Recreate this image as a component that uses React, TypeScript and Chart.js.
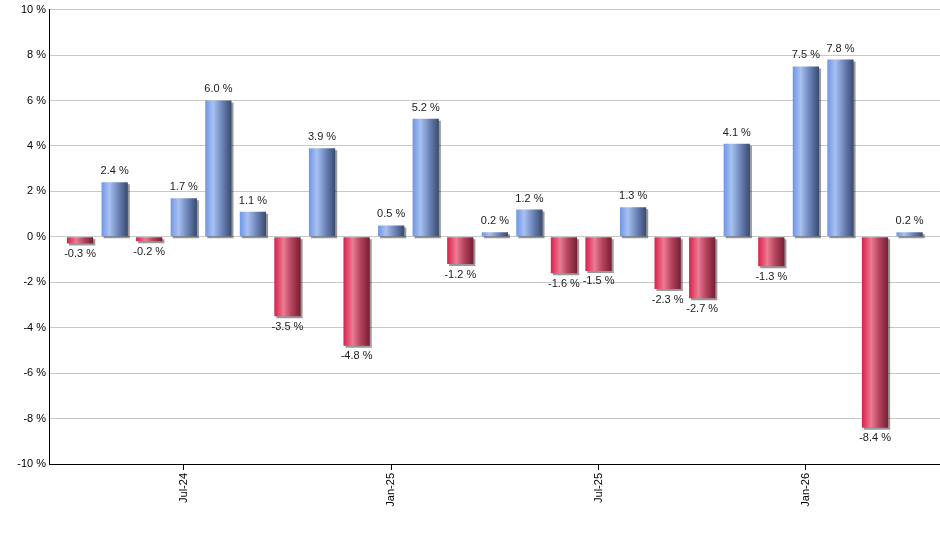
import React, { useEffect, useRef } from "react";
import { Chart, registerables } from "chart.js";

Chart.register(...registerables);

const months = [
  "Apr-24", "May-24", "Jun-24", "Jul-24", "Aug-24", "Sep-24", "Oct-24", "Nov-24", "Dec-24",
  "Jan-25", "Feb-25", "Mar-25", "Apr-25", "May-25", "Jun-25", "Jul-25", "Aug-25", "Sep-25",
  "Oct-25", "Nov-25", "Dec-25", "Jan-26", "Feb-26", "Mar-26", "Apr-26",
];
const returns = [
  -0.3, 2.4, -0.2, 1.7, 6.0, 1.1, -3.5, 3.9, -4.8, 0.5, 5.2, -1.2, 0.2,
  1.2, -1.6, -1.5, 1.3, -2.3, -2.7, 4.1, -1.3, 7.5, 7.8, -8.4, 0.2,
];
const yTicks = [-10, -8, -6, -4, -2, 0, 2, 4, 6, 8, 10];

const FONT = "'Liberation Sans', Arial, sans-serif";
const BAR_FRACTION = 0.76;

function barGradient(c: any, positive: boolean) {
  const chart = c.chart;
  const xs = chart.scales && chart.scales.x;
  if (!chart.chartArea || !xs) return positive ? "#7f9ee0" : "#d63a5a";
  const cx = xs.getPixelForValue(c.dataIndex);
  const step = xs.getPixelForValue(1) - xs.getPixelForValue(0);
  const half = (step * BAR_FRACTION) / 2;
  const g = chart.ctx.createLinearGradient(cx - half, 0, cx + half, 0);
  if (positive) {
    g.addColorStop(0, "#6f95e6");
    g.addColorStop(0.3, "#a8c1f1");
    g.addColorStop(0.65, "#6a82b6");
    g.addColorStop(1, "#394a6e");
  } else {
    g.addColorStop(0, "#d8204a");
    g.addColorStop(0.35, "#ec7b94");
    g.addColorStop(0.65, "#b4445e");
    g.addColorStop(1, "#761d33");
  }
  return g;
}

const barPlugin = {
  id: "barDeco",
  beforeDatasetsDraw(chart: any) {
    const ctx = chart.ctx;
    ctx.save();
    ctx.shadowColor = "rgba(0,0,0,0.4)";
    ctx.shadowOffsetX = 2;
    ctx.shadowOffsetY = 2;
    ctx.shadowBlur = 0;
  },
  afterDatasetsDraw(chart: any) {
    const ctx = chart.ctx;
    ctx.restore();
    const meta = chart.getDatasetMeta(0);
    ctx.save();
    ctx.font = `11px ${FONT}`;
    ctx.fillStyle = "#1a1a1a";
    ctx.textAlign = "center";
    meta.data.forEach((el: any, i: number) => {
      const v = returns[i];
      const txt = v.toFixed(1) + " %";
      if (v >= 0) {
        ctx.textBaseline = "alphabetic";
        ctx.fillText(txt, el.x, el.y - 8);
      } else {
        ctx.textBaseline = "top";
        ctx.fillText(txt, el.x, el.y + 5);
      }
    });
    ctx.restore();
  },
};

export default function App() {
  const ref = useRef<HTMLCanvasElement | null>(null);

  useEffect(() => {
    if (!ref.current) return;
    const tickIdx = months
      .map((m, i) => (m.startsWith("Jan") || m.startsWith("Jul") ? i : -1))
      .filter((i) => i >= 0);
    const chart = new Chart(ref.current, {
      type: "bar",
      data: {
        labels: months.map((_, i) => i),
        datasets: [
          {
            data: returns,
            backgroundColor: (c: any) => barGradient(c, (c.raw as number) >= 0),
            borderWidth: 0,
            barPercentage: 1,
            categoryPercentage: BAR_FRACTION,
          },
        ],
      },
      options: {
        animation: false,
        responsive: true,
        maintainAspectRatio: false,
        layout: { padding: { top: 9, left: 0, right: 0, bottom: 0 } },
        plugins: { legend: { display: false }, tooltip: { enabled: false } },
        scales: {
          x: {
            type: "linear",
            offset: false,
            min: -0.9,
            max: 24.88,
            afterBuildTicks: (s: any) => {
              s.ticks = tickIdx.map((v) => ({ value: v }));
            },
            afterFit: (s: any) => {
              s.height = 86;
            },
            ticks: {
              autoSkip: false,
              minRotation: 90,
              maxRotation: 90,
              padding: 3,
              color: "#000",
              font: { family: FONT, size: 11 },
              callback: (v: any) => months[v as number] ?? "",
            },
            grid: {
              offset: false,
              drawOnChartArea: false,
              drawTicks: true,
              tickLength: 6,
              tickColor: "#000",
            },
            border: { color: "#000", width: 1 },
          },
          y: {
            min: -10,
            max: 10,
            afterBuildTicks: (s: any) => {
              s.ticks = yTicks.map((v) => ({ value: v }));
            },
            afterFit: (s: any) => {
              s.width = 49;
            },
            ticks: {
              padding: 3,
              color: "#000",
              font: { family: FONT, size: 11 },
              callback: (v: any) => `${v} %`,
            },
            grid: { color: "#c8c8c8", drawTicks: false },
            border: { color: "#000", width: 1 },
          },
        },
      },
      plugins: [barPlugin],
    });
    return () => chart.destroy();
  }, []);

  return (
    <div style={{ position: "fixed", left: 0, top: 0, width: 940, height: 550, background: "#fff" }}>
      <canvas ref={ref} />
    </div>
  );
}
